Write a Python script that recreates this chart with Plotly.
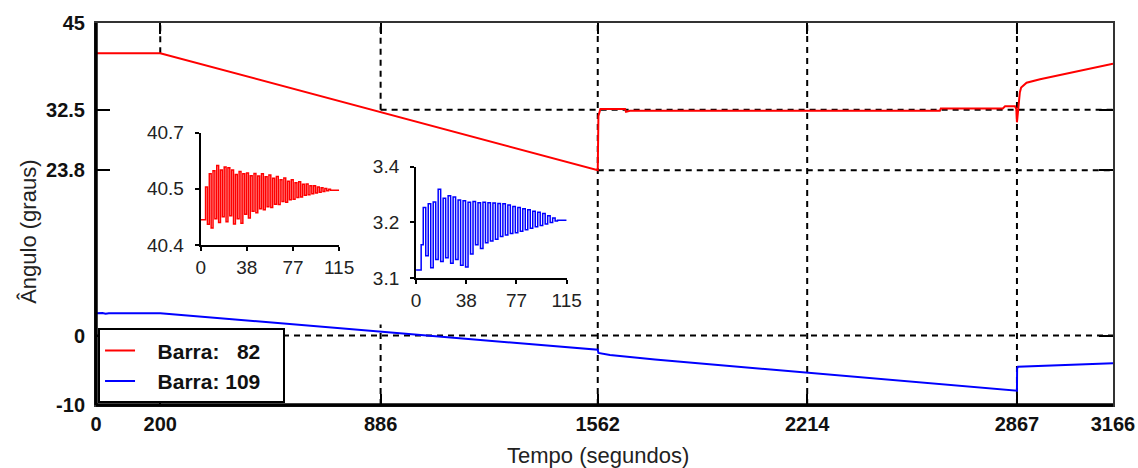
import plotly.graph_objects as go

# ---------------- data ----------------
x_ticks = [0, 200, 886, 1562, 2214, 2867, 3166]
y_ticks = [-10, 0, 23.8, 32.5, 45]
y_tick_text = ["-10", "0", "23.8", "32.5", "45"]

# main curves (time s, angle deg)
red_t = [0, 200, 1562, 1562.5, 1564, 1570, 1647, 1650, 1662, 2627, 2630, 2823, 2830, 2861, 2865, 2867, 2876, 2880, 2897, 2939, 3157, 3166]
red_v = [40.65, 40.65, 23.8, 27.5, 31.6, 32.6, 32.6, 32.2, 32.35, 32.35, 32.7, 32.7, 33.0, 33.0, 32.6, 30.7, 35.0, 35.7, 36.4, 36.9, 39.08, 39.15]

blue_t = [0, 20, 30, 40, 200, 1562, 1564, 1600, 1740, 2867, 2867.5, 2870, 3166]
blue_v = [3.21, 3.25, 3.15, 3.22, 3.21, -2.05, -2.5, -2.8, -3.45, -7.94, -4.75, -4.5, -4.0]

# inset 1 : bus 82, first 115 s
red_in_t = [0, 3.5, 4.0, 5.55, 7.1, 8.65, 10.2, 11.75, 13.3, 14.85, 16.4, 17.95, 19.5, 21.05, 22.6, 24.15,
            25.7, 27.25, 28.8, 30.35, 31.9, 33.45, 35.0, 36.55, 38.1, 39.65, 41.2, 42.75, 44.3, 45.85,
            47.4, 48.95, 50.5, 52.05, 53.6, 55.15, 56.7, 58.25, 59.8, 61.35, 62.9, 64.45, 66.0, 67.55,
            69.1, 70.65, 72.2, 73.75, 75.3, 76.85, 78.4, 79.95, 81.5, 83.05, 84.6, 86.15, 87.7, 89.25,
            90.8, 92.35, 93.9, 95.45, 97.0, 98.55, 100.1, 101.65, 103.2, 104.75, 106.3, 107.85, 115]
red_in_v = [40.467, 40.467, 40.555, 40.455, 40.590, 40.445, 40.598, 40.470, 40.612, 40.460, 40.600, 40.475,
            40.608, 40.462, 40.606, 40.478, 40.600, 40.456, 40.588, 40.470, 40.596, 40.458, 40.590, 40.482,
            40.592, 40.472, 40.585, 40.490, 40.591, 40.486, 40.584, 40.497, 40.590, 40.494, 40.582, 40.502,
            40.587, 40.500, 40.578, 40.509, 40.583, 40.508, 40.574, 40.516, 40.579, 40.514, 40.570, 40.521,
            40.574, 40.522, 40.566, 40.527, 40.569, 40.528, 40.562, 40.533, 40.563, 40.534, 40.558, 40.537,
            40.558, 40.539, 40.555, 40.541, 40.553, 40.543, 40.551, 40.545, 40.549, 40.546, 40.547]

# inset 2 : bus 109, first 115 s
blue_in_t = [0, 3.8, 3.9, 5.0, 5.5, 7.4, 9.3, 11.2, 13.1, 15.0, 16.9, 18.8, 20.7, 22.6, 24.5, 26.4, 28.3,
             30.2, 32.1, 34.0, 35.9, 37.8, 39.7, 41.6, 43.5, 45.4, 47.3, 49.2, 51.1, 53.0, 54.9, 56.8,
             58.7, 60.6, 62.5, 64.4, 66.3, 68.2, 70.1, 72.0, 73.9, 75.8, 77.7, 79.6, 81.5, 83.4, 85.3,
             87.2, 89.1, 91.0, 92.9, 94.8, 96.7, 98.6, 100.5, 102.4, 104.3, 106.2, 108, 115]
blue_in_v = [3.122, 3.122, 3.19, 3.19, 3.290, 3.160, 3.300, 3.128, 3.305, 3.150, 3.339, 3.145, 3.315, 3.155,
             3.322, 3.140, 3.318, 3.150, 3.310, 3.135, 3.308, 3.130, 3.304, 3.165, 3.306, 3.190, 3.303,
             3.180, 3.304, 3.195, 3.303, 3.200, 3.302, 3.205, 3.301, 3.212, 3.300, 3.216, 3.297, 3.220,
             3.293, 3.222, 3.290, 3.226, 3.287, 3.230, 3.284, 3.234, 3.280, 3.238, 3.277, 3.242, 3.274,
             3.246, 3.268, 3.250, 3.262, 3.254, 3.256, 3.256]

inset_x_ticks = [0, 115 / 3, 230 / 3, 115]
inset_x_text = ["0", "38", "77", "115"]
in1_y_ticks = [40.4, 40.55, 40.7]
in1_y_text = ["40.4", "40.5", "40.7"]
in2_y_ticks = [3.1, 3.25, 3.4]
in2_y_text = ["3.1", "3.2", "3.4"]

NB = "\u00a0"
names = [NB * 3 + "Barra:" + NB * 3 + "82" + NB * 3, NB * 3 + "Barra: 109" + NB * 3]

# ---------------- figure ----------------
FONT = "Liberation Sans, Arial, sans-serif"
RED = "#ff0000"
BLUE = "#0000ff"

fig = go.Figure()
fig.add_trace(go.Scatter(x=red_t, y=red_v, mode="lines", name=names[0],
                         line=dict(color=RED, width=2)))
fig.add_trace(go.Scatter(x=blue_t, y=blue_v, mode="lines", name=names[1],
                         line=dict(color=BLUE, width=2)))
fig.add_trace(go.Scatter(x=red_in_t, y=red_in_v, mode="lines", showlegend=False,
                         line=dict(color=RED, width=1.5, shape="hv"), xaxis="x2", yaxis="y2"))
fig.add_trace(go.Scatter(x=blue_in_t, y=blue_in_v, mode="lines", showlegend=False,
                         line=dict(color=BLUE, width=1.5, shape="hv"), xaxis="x3", yaxis="y3"))

XMAX = x_ticks[-1]
YMIN, YMAX = y_ticks[0], y_ticks[-1]

# partial dashed grid lines as in the original
dash = dict(color="black", width=2, dash="6px,5px")
segs = [
    ("v", x_ticks[1], red_v[1], YMAX),
    ("v", x_ticks[2], y_ticks[3], YMAX),
    ("v", x_ticks[2], YMIN, 1.6),
    ("v", x_ticks[3], YMIN, YMAX),
    ("v", x_ticks[4], YMIN, YMAX),
    ("v", x_ticks[5], YMIN, YMAX),
    ("h", y_ticks[1], 0, XMAX),
    ("h", y_ticks[2], x_ticks[3], XMAX),
    ("h", y_ticks[3], x_ticks[2], XMAX),
]
shapes = []
for kind, a, b, c in segs:
    if kind == "v":
        shapes.append(dict(type="line", xref="x", yref="y", x0=a, x1=a, y0=b, y1=c,
                           line=dash, layer="below"))
    else:
        shapes.append(dict(type="line", xref="x", yref="y", x0=b, x1=c, y0=a, y1=a,
                           line=dash, layer="below"))
shapes.append(dict(type="line", xref="paper", yref="paper", x0=0, x1=0, y0=0, y1=1,
                   line=dict(color="black", width=3.5)))
shapes.append(dict(type="line", xref="paper", yref="paper", x0=0, x1=1, y0=0, y1=0,
                   line=dict(color="black", width=3.5)))

tick_font = dict(family=FONT, size=20, color="#111", weight="bold")
inset_font = dict(family=FONT, size=19, color="#222")


def inset_axis(**kw):
    d = dict(ticks="outside", ticklen=4, tickwidth=2, tickcolor="black",
             showline=True, linewidth=2, linecolor="black", automargin=False,
             showgrid=False, zeroline=False, tickfont=inset_font)
    d.update(kw)
    return d


fig.update_layout(
    template="none",
    width=1138, height=468,
    margin=dict(l=96, r=25, t=23, b=63, autoexpand=False),
    paper_bgcolor="white", plot_bgcolor="white",
    showlegend=True,
    shapes=shapes,
    xaxis=dict(range=[0, XMAX], tickvals=x_ticks, ticktext=[str(v) for v in x_ticks],
               ticks="inside", ticklen=11, tickwidth=2, tickcolor="black",
               showline=True, linewidth=2, linecolor="#333", mirror="ticks",
               showgrid=False, zeroline=False, tickfont=tick_font, automargin=False,
               ticklabelstandoff=0),
    yaxis=dict(range=[YMIN, YMAX], tickvals=y_ticks, ticktext=y_tick_text,
               ticks="inside", ticklen=14, tickwidth=2, tickcolor="black",
               showline=True, linewidth=2, linecolor="#333", mirror="ticks",
               showgrid=False, zeroline=False, tickfont=tick_font, automargin=False,
               ticklabelstandoff=5),
    xaxis2=inset_axis(domain=[0.103, 0.239], anchor="y2", range=[0, 115],
                      tickvals=inset_x_ticks, ticktext=inset_x_text),
    yaxis2=inset_axis(domain=[0.419, 0.713], anchor="x2", range=[40.4, 40.7],
                      tickvals=in1_y_ticks, ticktext=in1_y_text, ticklabelstandoff=7),
    xaxis3=inset_axis(domain=[0.3147, 0.4628], anchor="y3", range=[0, 115],
                      tickvals=inset_x_ticks, ticktext=inset_x_text),
    yaxis3=inset_axis(domain=[0.332, 0.624], anchor="x3", range=[3.1, 3.4],
                      tickvals=in2_y_ticks, ticktext=in2_y_text, ticklabelstandoff=7),
    legend=dict(x=0.002, y=0.004, xanchor="left", yanchor="bottom",
                bgcolor="white", bordercolor="black", borderwidth=2,
                font=dict(family=FONT, size=21, color="#111", weight="bold"),
                tracegroupgap=0, itemwidth=30),
    annotations=[
        dict(text="Ângulo (graus)", xref="paper", yref="paper", x=-0.066, y=0.453,
             textangle=-90, showarrow=False, xanchor="center", yanchor="middle",
             font=dict(family=FONT, size=22, color="#222")),
        dict(text="Tempo (segundos)", xref="paper", yref="paper", x=0.494, y=-0.131,
             showarrow=False, xanchor="center", yanchor="middle",
             font=dict(family=FONT, size=22, color="#222")),
    ],
)

# remove the default 8px page margin so the figure fills the 1138x468 window exactly
fig.write_html("out.html", config={"displayModeBar": False},
               post_script="document.body.style.margin='0px';document.body.style.overflow='hidden';")
